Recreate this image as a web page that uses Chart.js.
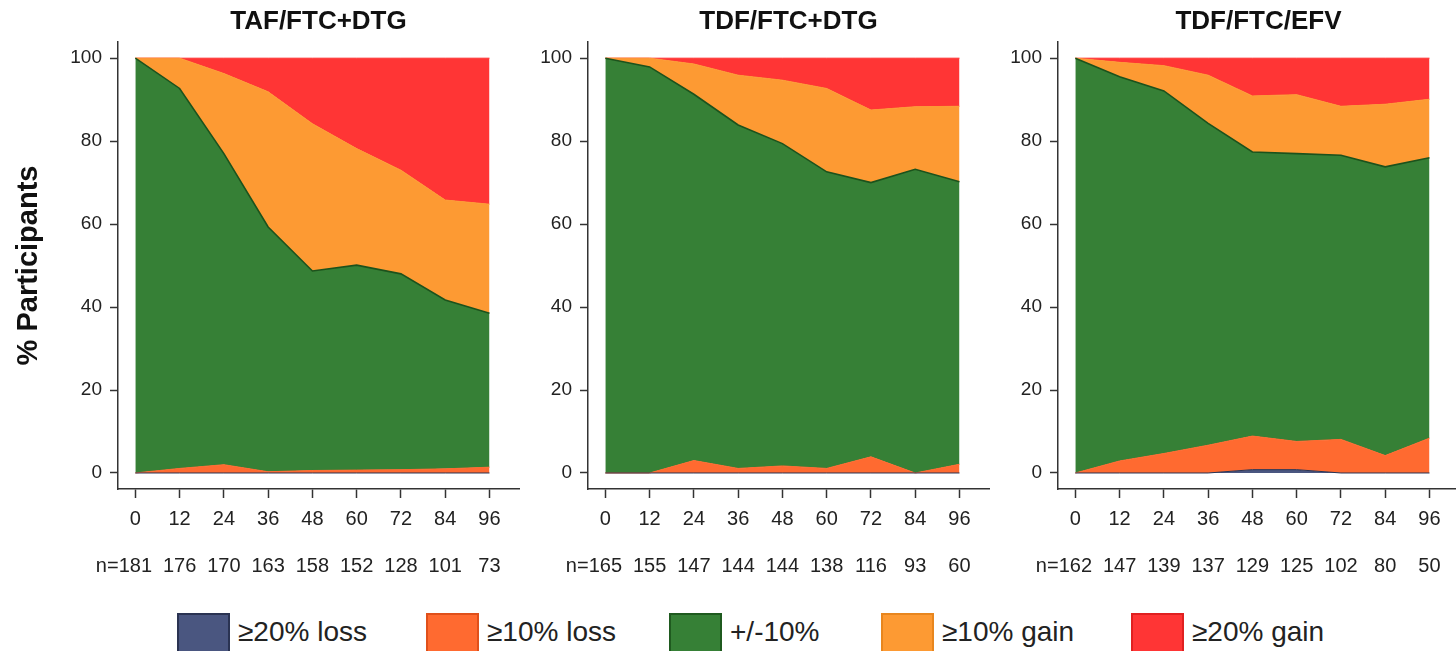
<!DOCTYPE html>
<html>
<head>
<meta charset="utf-8">
<script src="https://cdn.jsdelivr.net/npm/chart.js@4.4.1/dist/chart.umd.min.js"></script>
<style>
  html, body { margin: 0; padding: 0; background: #fff; }
  #wrap { position: relative; width: 1456px; height: 651px; overflow: hidden; background: #fff; }
  canvas { position: absolute; top: 0; }
  .leg { position: absolute; top: 613px; height: 40px; font-family: "Liberation Sans", Arial, sans-serif; font-size: 28px; color: #222; }
  .leg .box { position: absolute; left: 0; top: 0; width: 53px; height: 40px; border: 2px solid; box-sizing: border-box; }
  .leg .txt { position: absolute; left: 61px; top: 3px; white-space: nowrap; }
</style>
</head>
<body>
<div id="wrap">
  <canvas id="c1" width="530" height="590" style="left:0px"></canvas>
  <canvas id="c2" width="530" height="590" style="left:470px"></canvas>
  <canvas id="c3" width="530" height="590" style="left:940px"></canvas>
  <div id="legend"></div>
</div>
<script>
// ---- data ----
const weeks = [0, 12, 24, 36, 48, 60, 72, 84, 96];
const yTicks = [0, 20, 40, 60, 80, 100];
const seriesLabels = ['≥20% loss', '≥10% loss', '+/-10%', '≥10% gain', '≥20% gain'];
const panelTitles = ['TAF/FTC+DTG', 'TDF/FTC+DTG', 'TDF/FTC/EFV'];

const nTAF = [181, 176, 170, 163, 158, 152, 128, 101, 73];
const nTDF = [165, 155, 147, 144, 144, 138, 116, 93, 60];
const nEFV = [162, 147, 139, 137, 129, 125, 102, 80, 50];

// TAF/FTC+DTG (% participants per weight-change category)
const tafLoss20  = [0, 0, 0, 0, 0, 0, 0, 0, 0];
const tafLoss10  = [0, 1.1, 2.0, 0.3, 0.6, 0.7, 0.8, 1.0, 1.4];
const tafStable  = [100, 91.6, 75.0, 59.0, 48.1, 49.4, 47.2, 40.7, 37.1];
const tafGain10  = [0, 7.3, 19.3, 32.6, 35.5, 28.1, 25.0, 24.1, 26.3];
const tafGain20  = [0, 0, 3.7, 8.1, 15.8, 21.8, 27.0, 34.2, 35.2];

// TDF/FTC+DTG
const tdfLoss20  = [0, 0, 0, 0, 0, 0, 0, 0, 0];
const tdfLoss10  = [0, 0, 3.0, 1.1, 1.7, 1.1, 3.9, 0, 2.1];
const tdfStable  = [100, 97.9, 88.3, 82.8, 77.7, 71.5, 66.1, 73.2, 68.1];
const tdfGain10  = [0, 2.1, 7.3, 12.0, 15.3, 20.1, 17.5, 15.1, 18.2];
const tdfGain20  = [0, 0, 1.4, 4.1, 5.3, 7.3, 12.5, 11.7, 11.6];

// TDF/FTC/EFV
const efvLoss20  = [0, 0, 0, 0, 0.8, 0.8, 0, 0, 0];
const efvLoss10  = [0, 2.9, 4.7, 6.7, 8.1, 6.8, 8.1, 4.2, 8.4];
const efvStable  = [100, 92.6, 87.4, 77.6, 68.5, 69.4, 68.5, 69.6, 67.6];
const efvGain10  = [0, 3.5, 6.1, 11.6, 13.5, 14.2, 11.8, 15.1, 14.1];
const efvGain20  = [0, 1.0, 1.8, 4.1, 9.1, 8.8, 11.6, 11.1, 9.9];

// ---- styles ----
const fills   = ['#4a5680', '#ff6a30', '#368036', '#fd9a33', '#ff3535'];
const borders = ['#2a3352', '#ff6a30', '#1c521c', '#fd9a33', '#ff3535'];
const legBorders = ['#2a3352', '#e0501a', '#1f5a1f', '#e8861e', '#e02020'];
const FONT = '"Liberation Sans", Arial, sans-serif';

const panels = [
  { id: 'c1', title: panelTitles[0], n: nTAF, series: [tafLoss20, tafLoss10, tafStable, tafGain10, tafGain20], yTitle: true },
  { id: 'c2', title: panelTitles[1], n: nTDF, series: [tdfLoss20, tdfLoss10, tdfStable, tdfGain10, tdfGain20], yTitle: false },
  { id: 'c3', title: panelTitles[2], n: nEFV, series: [efvLoss20, efvLoss10, efvStable, efvGain10, efvGain20], yTitle: false }
];

const extrasPlugin = {
  id: 'extras',
  afterDraw(chart, args, opts) {
    const ctx = chart.ctx;
    const ca = chart.chartArea;
    const xs = chart.scales.x;
    ctx.save();
    // panel title
    ctx.fillStyle = '#111';
    ctx.font = 'bold 26px ' + FONT;
    ctx.textAlign = 'center';
    ctx.textBaseline = 'middle';
    ctx.fillText(opts.title, (ca.left + ca.right) / 2, 22);
    // n row
    ctx.font = '20px ' + FONT;
    ctx.fillStyle = '#222';
    opts.n.forEach((v, i) => {
      const px = xs.getPixelForValue(weeks[i]);
      ctx.textAlign = 'center';
      ctx.fillText(String(v), px, 566);
      if (i === 0) {
        const w = ctx.measureText(String(v)).width;
        ctx.textAlign = 'right';
        ctx.fillText('n=', px - w / 2, 566);
      }
    });
    ctx.restore();
  }
};

panels.forEach(p => {
  const datasets = p.series.map((vals, k) => ({
    label: seriesLabels[k],
    data: weeks.map((w, i) => ({ x: w, y: vals[i] })),
    backgroundColor: fills[k],
    borderColor: borders[k],
    borderWidth: k === 2 ? 1.6 : 1,
    fill: k === 0 ? 'origin' : '-1',
    pointRadius: 0,
    tension: 0
  }));
  new Chart(document.getElementById(p.id), {
    type: 'line',
    data: { datasets },
    plugins: [extrasPlugin],
    options: {
      responsive: false,
      animation: false,
      devicePixelRatio: 1,
      layout: { padding: { top: 42, right: 11, left: 0, bottom: 0 } },
      plugins: {
        legend: { display: false },
        tooltip: { enabled: false },
        extras: { title: p.title, n: p.n }
      },
      scales: {
        x: {
          type: 'linear',
          min: -4.7, max: 104,
          afterBuildTicks: s => { s.ticks = weeks.map(v => ({ value: v })); },
          afterFit: s => { s.height = 101; },
          grid: { drawOnChartArea: false, drawTicks: true, tickLength: 9, tickColor: '#333', tickWidth: 1.5 },
          border: { display: true, color: '#333', width: 1.5 },
          ticks: { autoSkip: false, maxRotation: 0, padding: 9, color: '#222', font: { family: FONT, size: 20 } }
        },
        y: {
          stacked: true,
          min: -3.86, max: 103.9,
          afterBuildTicks: s => { s.ticks = yTicks.map(v => ({ value: v })); },
          afterFit: s => { s.width = 118; },
          grid: { drawOnChartArea: false, drawTicks: true, tickLength: 8, tickColor: '#333', tickWidth: 1.5 },
          border: { display: true, color: '#333', width: 1.5 },
          ticks: { padding: 8, color: '#222', font: { family: FONT, size: 19 } },
          title: { display: p.yTitle, text: '% Participants', color: '#111', font: { family: FONT, size: 29, weight: 'bold' }, padding: { top: 12, bottom: 0 } }
        }
      }
    }
  });
});

// HTML legend
const legX = [177, 426, 669, 881, 1131];
const legend = document.getElementById('legend');
seriesLabels.forEach((lab, k) => {
  const d = document.createElement('div');
  d.className = 'leg';
  d.style.left = legX[k] + 'px';
  d.innerHTML = '<div class="box" style="background:' + fills[k] + ';border-color:' + legBorders[k] + '"></div><div class="txt">' + lab + '</div>';
  legend.appendChild(d);
});
</script>
</body>
</html>
